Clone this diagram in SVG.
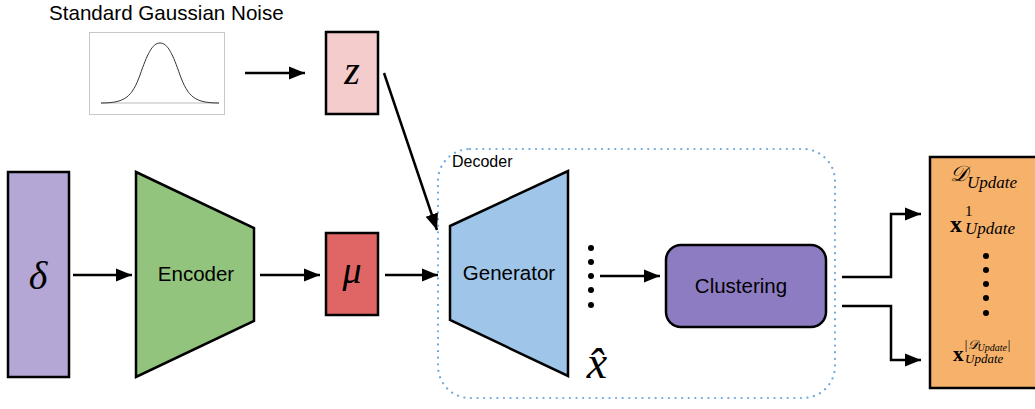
<svg xmlns="http://www.w3.org/2000/svg" width="1035" height="409" viewBox="0 0 1035 409">
  <defs>
    <marker id="arrow" viewBox="0 0 10 10" refX="10" refY="5" markerWidth="6.5" markerHeight="6.5" markerUnits="strokeWidth" orient="auto">
      <path d="M0,1 L10,5 L0,9 z" fill="#000"/>
    </marker>
    <style>
      .block { stroke: #000; stroke-width: 2.5; stroke-linejoin: miter; }
      .lbl { font-family: "Liberation Sans", Arial, sans-serif; fill: #000; }
      .math { font-family: "Liberation Serif", "DejaVu Serif", serif; font-style: italic; fill: #000; }
      .bold { font-family: "Liberation Serif", "DejaVu Serif", serif; font-weight: bold; fill: #000; }
      .edge { fill: none; stroke: #000; stroke-width: 2.5; marker-end: url(#arrow); }
      .dot { fill: #000; }
    </style>
  </defs>

  <!-- noise source -->
  <g id="noise">
    <text class="lbl" x="49" y="20" font-size="20.6">Standard Gaussian Noise</text>
    <rect x="89.5" y="32.5" width="135" height="82" fill="#fff" stroke="#c8c8c8" stroke-width="1"/>
    <line x1="101" y1="103" x2="219" y2="103" stroke="#bbb" stroke-width="1"/>
    <path d="M101,103 C125,103 132,97 140,75 C147,55 152,43 160,43 C168,43 173,55 180,75 C188,97 195,103 219,103" fill="none" stroke="#333" stroke-width="1"/>
  </g>

  <g id="z">
    <rect class="block" x="326" y="32" width="52" height="82" fill="#f4cccc"/>
    <text class="math" x="352" y="84" font-size="40" text-anchor="middle">z</text>
  </g>

  <g id="delta">
    <rect class="block" x="8" y="172" width="61" height="205" fill="#b4a7d6"/>
    <text class="math" x="38" y="289" font-size="40" text-anchor="middle">δ</text>
  </g>

  <g id="encoder">
    <polygon class="block" points="136,172 254,228 254,321 136,377" fill="#93c47d"/>
    <text class="lbl" x="196" y="281" font-size="20.5" text-anchor="middle">Encoder</text>
  </g>

  <g id="mu">
    <rect class="block" x="326" y="233" width="52" height="82" fill="#e06666"/>
    <text class="math" x="352" y="283" font-size="38" text-anchor="middle">μ</text>
  </g>

  <g id="decoder">
    <rect x="438" y="149" width="397" height="249" rx="32" ry="32" fill="none" stroke="#6fa8dc" stroke-width="2.2" stroke-dasharray="0.1 6.5" stroke-linecap="round"/>
    <text class="lbl" x="452" y="167" font-size="16">Decoder</text>
  </g>

  <g id="generator">
    <polygon class="block" points="450,226 568,171 568,376 450,320" fill="#9fc5e8"/>
    <text class="lbl" x="509" y="280" font-size="20.5" text-anchor="middle">Generator</text>
  </g>

  <g id="samples">
    <circle class="dot" cx="591" cy="248" r="3"/>
    <circle class="dot" cx="591" cy="262" r="3"/>
    <circle class="dot" cx="591" cy="276" r="3"/>
    <circle class="dot" cx="591" cy="290" r="3"/>
    <circle class="dot" cx="591" cy="305" r="3"/>
    <text class="math" x="597" y="378" font-size="46" text-anchor="middle">x̂</text>
  </g>

  <g id="clustering">
    <rect class="block" x="666" y="245" width="160" height="82" rx="15" ry="15" fill="#8e7cc3"/>
    <text class="lbl" x="741" y="293" font-size="20.5" text-anchor="middle">Clustering</text>
  </g>

  <g id="update-set">
    <rect class="block" x="930" y="157" width="110" height="231" fill="#f6b26b"/>
    <text class="math" x="950" y="181" font-size="22">𝒟</text>
    <text class="math" x="967" y="188" font-size="17">Update</text>
    <text class="bold" x="950" y="232" font-size="24">x</text>
    <text x="965" y="216" font-size="15" font-family="Liberation Serif, serif">1</text>
    <text class="math" x="965" y="234" font-size="17">Update</text>
    <circle class="dot" cx="986" cy="256" r="3"/>
    <circle class="dot" cx="986" cy="270" r="3"/>
    <circle class="dot" cx="986" cy="284" r="3"/>
    <circle class="dot" cx="986" cy="298" r="3"/>
    <circle class="dot" cx="986" cy="313" r="3"/>
    <text class="bold" x="953" y="361" font-size="21">x</text>
    <text class="math" x="964" y="349" font-size="13">|𝒟<tspan font-size="10" dy="2">Update</tspan><tspan dy="-2">|</tspan></text>
    <text class="math" x="965" y="363" font-size="13">Update</text>
  </g>

  <g id="connectors">
    <line class="edge" x1="245" y1="73" x2="305" y2="73"/>
    <line class="edge" x1="384" y1="73" x2="437" y2="230"/>
    <line class="edge" x1="73" y1="275" x2="132" y2="275"/>
    <line class="edge" x1="260" y1="275" x2="320" y2="275"/>
    <line class="edge" x1="385" y1="275" x2="438" y2="275"/>
    <line class="edge" x1="600" y1="276" x2="660" y2="276"/>
    <polyline class="edge" points="842,277 891,277 891,214 921,214"/>
    <polyline class="edge" points="842,306 891,306 891,360 921,360"/>
  </g>
</svg>
